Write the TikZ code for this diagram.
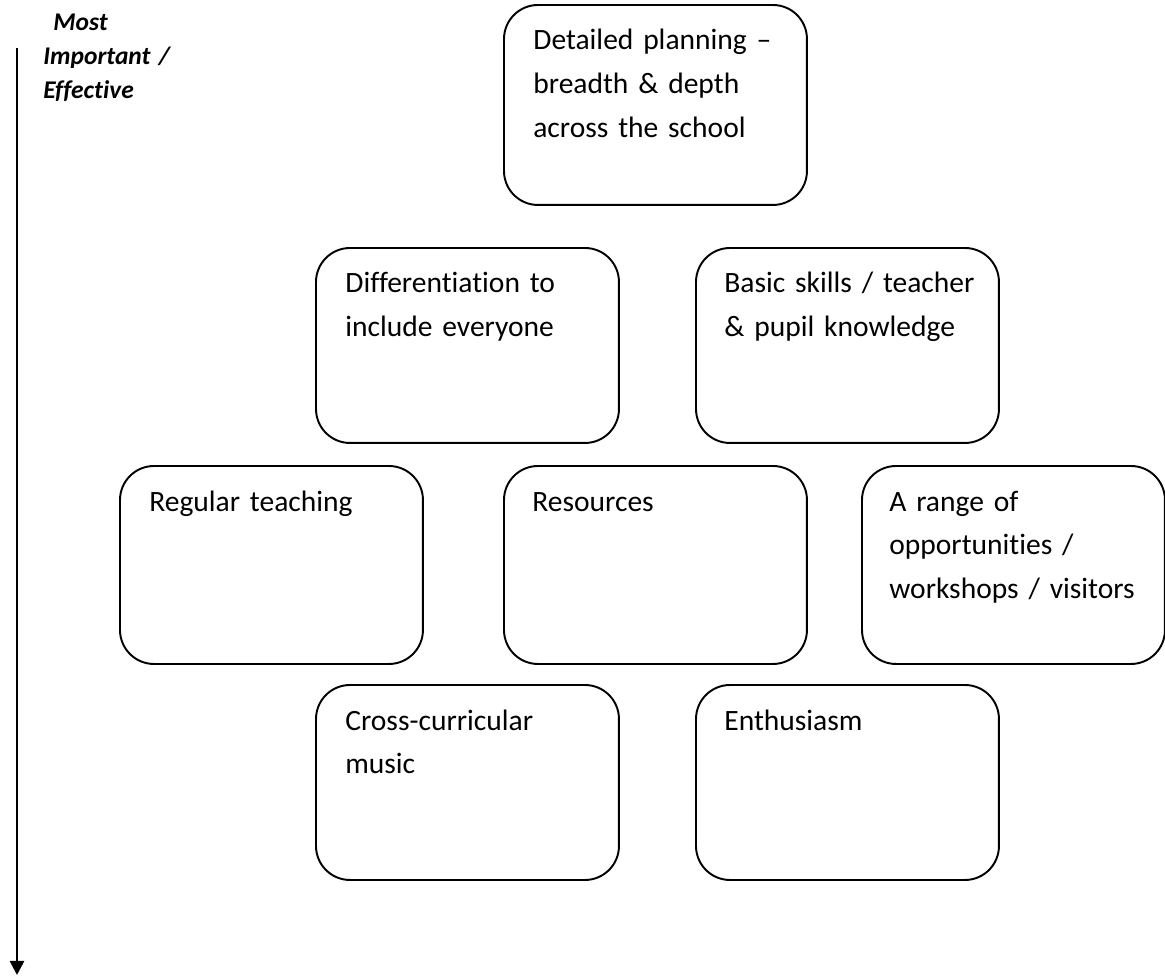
\documentclass[tikz,border=0pt]{standalone}
\usepackage{fontspec}
\setmainfont{Carlito}[Ligatures=CommonOff, WordSpace=0.85]
\usetikzlibrary{arrows.meta}
\tikzset{
  box/.style={draw, line width=1.1pt, rounded corners=0.68cm, anchor=north west, minimum width=6.06cm, inner sep=0pt, outer sep=0pt},
  boxtext/.style={anchor=base west, align=left, text width=5.5cm, inner sep=0pt, font=\fontsize{16.8}{25}\selectfont},
  ttl/.style={anchor=base west, align=left, text width=3cm, inner sep=0pt, font=\fontsize{14.5}{19.3}\selectfont\bfseries\itshape},
  axis/.style={line width=1.4pt, -{Triangle[width=8pt,length=8pt]}}
}
\begin{document}
\begin{tikzpicture}[x=0.02cm,y=-0.02cm]
\useasboundingbox (0,0) rectangle (1165,976);
% title and axis
\node[ttl] (title) at (43,31) {\hspace*{5.7pt}Most\\Important /\\Effective};
\coordinate (atop) at (17,48);
\coordinate (abot) at (17,975);
\draw[axis] (atop) -- (abot);
% boxes
\node[box, minimum height=4cm] (b1) at (504,5) {};
\node[box, minimum height=3.9cm] (b2) at (316,248) {};
\node[box, minimum height=3.9cm] (b3) at (696,248) {};
\node[box, minimum height=3.96cm] (b4) at (120,466) {};
\node[box, minimum height=3.96cm] (b5) at (504,466) {};
\node[box, minimum height=3.96cm] (b6) at (862,466) {};
\node[box, minimum height=3.9cm] (b7) at (316,685) {};
\node[box, minimum height=3.9cm] (b8) at (696,685) {};
% texts
\node[boxtext] (t1) at ([shift={(29,45)}]b1.north west) {Detailed planning --\\breadth \& depth\\across the school};
\node[boxtext] (t2) at ([shift={(29,45)}]b2.north west) {Differentiation to\\include everyone};
\node[boxtext] (t3) at ([shift={(28,45)}]b3.north west) {Basic skills / teacher\\\& pupil knowledge};
\node[boxtext] (t4) at ([shift={(29,45)}]b4.north west) {Regular teaching};
\node[boxtext] (t5) at ([shift={(28,45)}]b5.north west) {Resources};
\node[boxtext] (t6) at ([shift={(27,45)}]b6.north west) {A range of\\opportunities /\\workshops / visitors};
\node[boxtext] (t7) at ([shift={(29,45)}]b7.north west) {Cross-curricular\\music};
\node[boxtext] (t8) at ([shift={(28,45)}]b8.north west) {Enthusiasm};
\end{tikzpicture}
\end{document}
